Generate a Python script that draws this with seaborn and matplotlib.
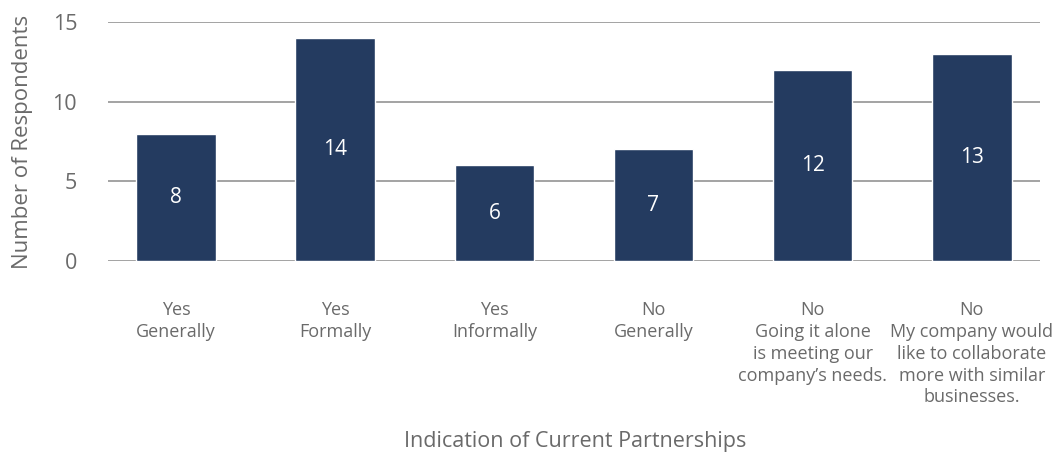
import matplotlib
matplotlib.use('Agg')
import matplotlib.pyplot as plt
import seaborn as sns
import pandas as pd

categories = ['Yes\nGenerally', 'Yes\nFormally', 'Yes\nInformally', 'No\nGenerally',
              'No\nGoing it alone\nis meeting our\ncompany\u2019s needs.',
              'No\nMy company would\nlike to collaborate\nmore with similar\nbusinesses.']
respondents = [8, 14, 6, 7, 12, 13]
yticks = [0, 5, 10, 15]

sns.set_style('white')
plt.rcParams['font.family'] = ['Open Sans', 'DejaVu Sans']

df = pd.DataFrame({'cat': categories, 'n': respondents})
txt = '#6a6a6a'

fig = plt.figure(figsize=(10.56, 4.58), dpi=100)
ax = fig.add_axes([0.102, 0.430, 0.883, 0.522])
for y in yticks:
    ax.axhline(y, color='#8a8a8a', lw=1.1, zorder=0)
vis = sns.barplot(data=df, x='cat', y='n', color='#243b60', width=0.5, saturation=1, ax=ax, zorder=2)
for p, v in zip(vis.patches, respondents):
    ax.text(p.get_x() + p.get_width() / 2, p.get_height() / 2, str(v), ha='center', va='center',
            color='white', fontsize=15)

ax.set_xlim(-0.43, 5.43)
ax.set_ylim(0, 15)
ax.set_yticks(yticks)
ax.tick_params(axis='y', length=0, pad=22, labelsize=15.5, labelcolor=txt)
ax.tick_params(axis='x', length=0, pad=29, labelsize=13, labelcolor=txt)
for t in ax.get_xticklabels():
    t.set_linespacing(1.27)
sns.despine(ax=ax, left=True, bottom=True)
ax.set_ylabel('Number of Respondents', fontsize=16, color=txt, labelpad=14)
ax.set_xlabel('')
fig.text(0.545, 0.035, 'Indication of Current Partnerships', ha='center', va='center',
         fontsize=15.5, color=txt)

fig.savefig('out.png', dpi=100)
